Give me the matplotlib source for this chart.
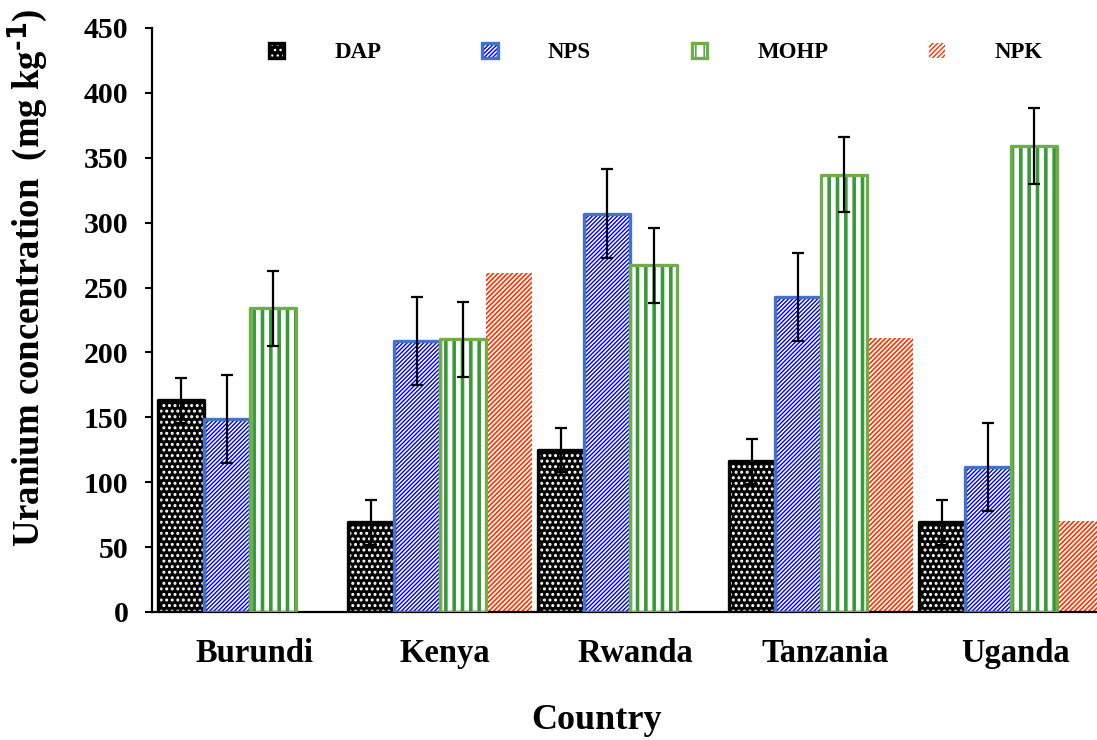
import numpy as np
import matplotlib
matplotlib.use("Agg")
import matplotlib.pyplot as plt
from matplotlib.patches import Patch
from matplotlib.legend_handler import HandlerTuple

# ---- data -------------------------------------------------------------
countries = ["Burundi", "Kenya", "Rwanda", "Tanzania", "Uganda"]
fertilizers = ["DAP", "NPS", "MOHP", "NPK"]

dap = [163, 69, 125, 116, 69]
nps = [149, 209, 307, 243, 112]
mohp = [234, 210, 267, 337, 359]
npk = [0, 261, 0, 211, 70]

dap_err = [17, 17, 17, 17, 17]
nps_err = [34, 34, 34, 34, 34]
mohp_err = [29, 29, 29, 29, 29]

y_ticks = [0, 50, 100, 150, 200, 250, 300, 350, 400, 450]

# ---- styling ----------------------------------------------------------
plt.rcParams["font.family"] = ["Liberation Serif", "DejaVu Serif"]
plt.rcParams["font.weight"] = "bold"
plt.rcParams["mathtext.default"] = "regular"

# face colour, hatch, hatch colour, hatch line width, border colour
styles = {
    "DAP":  dict(face="black", hatch="...", hcolor="white",   hlw=1.4, border="black"),
    "NPS":  dict(face="white", hatch="////////", hcolor="#0000FF", hlw=1.0, border="#4472C4"),
    "MOHP": dict(face="white", hatch="||",  hcolor="#3A9A3A", hlw=2.6, border="#70AD47"),
    "NPK":  dict(face="white", hatch="///////", hcolor="#FF3300", hlw=1.2, border=None),
}

series = {"DAP": (dap, dap_err), "NPS": (nps, nps_err),
          "MOHP": (mohp, mohp_err), "NPK": (npk, None)}

fig = plt.figure(figsize=(10.97, 7.40), dpi=100)
ax = fig.add_axes([152 / 1097, 1 - 612 / 740, 1 - 152 / 1097, (612 - 28) / 740])

x = np.arange(len(countries))
w = 0.242
handles = []

for k, name in enumerate(fertilizers):
    vals, err = series[name]
    st = styles[name]
    pos = x + (k - 1.5) * w
    with plt.rc_context({"hatch.linewidth": st["hlw"]}):
        fill = ax.bar(pos, vals, w, color=st["face"], edgecolor=st["hcolor"],
                      hatch=st["hatch"], linewidth=0, zorder=2)
        for p in fill:
            if hasattr(p, "set_hatch_linewidth"):
                p.set_hatch_linewidth(st["hlw"])
        h_fill = Patch(facecolor=st["face"], edgecolor=st["hcolor"],
                       hatch=st["hatch"], linewidth=0)
        if hasattr(h_fill, "set_hatch_linewidth"):
            h_fill.set_hatch_linewidth(st["hlw"])
    if st["border"] is not None:
        ax.bar(pos, vals, w, fill=False, edgecolor=st["border"], linewidth=2.4,
               joinstyle="round", zorder=3)
        h_border = Patch(fill=False, edgecolor=st["border"], linewidth=2.4,
                         joinstyle="round")
        handles.append((h_fill, h_border))
    else:
        handles.append((h_fill,))
    if err is not None:
        ax.errorbar(pos, vals, yerr=err, fmt="none", ecolor="black",
                    elinewidth=1.6, capsize=4, capthick=1.6, zorder=5)

# ---- axes -------------------------------------------------------------
ax.set_ylim(0, 450)
ax.set_xlim(-0.515, 4.452)
ax.set_yticks(y_ticks)
ax.set_xticks(x + 0.025)
ax.set_xticklabels(countries, fontsize=23.5, fontweight="bold")
ax.tick_params(axis="x", length=0, pad=19)
ax.tick_params(axis="y", length=5, width=1.5, direction="out", pad=12,
               labelsize=21.5)
for lab in ax.get_yticklabels():
    lab.set_fontweight("bold")

for side in ("top", "right"):
    ax.spines[side].set_visible(False)
for side in ("left", "bottom"):
    ax.spines[side].set_linewidth(1.6)
    ax.spines[side].set_color("black")

ax.set_ylabel(r"Uranium concentration  (mg kg$^{\text{-1}}$)", fontsize=26.5,
              fontweight="bold")
ax.yaxis.set_label_coords(-0.108, 0.572)
ax.set_xlabel("Country", fontsize=26, fontweight="bold")
ax.xaxis.set_label_coords(0.47, -0.157)

leg = ax.legend(handles, fertilizers, handler_map={tuple: HandlerTuple(ndivide=1)},
                loc="center left", bbox_to_anchor=(269 / 1097, 1 - 53 / 740),
                bbox_transform=fig.transFigure, ncol=4, frameon=False,
                borderpad=0, borderaxespad=0, handlelength=0.66,
                handleheight=0.66, handletextpad=2.2, columnspacing=4.4,
                prop={"size": 16.5, "weight": "bold"})

fig.savefig("out.png", dpi=100)
